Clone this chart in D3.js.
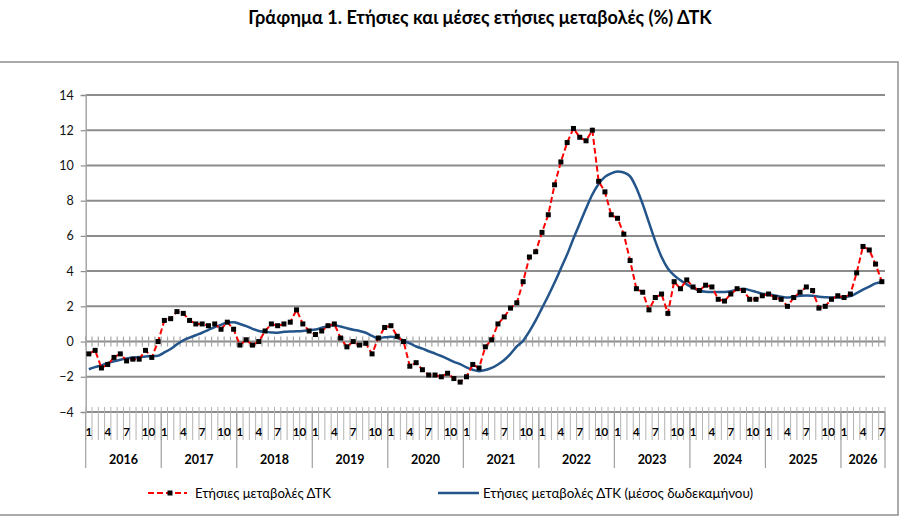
<!DOCTYPE html>
<html>
<head>
<meta charset="utf-8">
<script src="https://cdn.jsdelivr.net/npm/d3@7"></script>
<style>
  html, body { margin: 0; padding: 0; background: #ffffff; }
  svg { display: block; font-family: Lato, "Open Sans", "DejaVu Sans", sans-serif; }
</style>
</head>
<body>
<svg id="chart" width="914" height="530"></svg>
<script>
// ---------- data ----------
const titleText = "Γράφημα 1. Ετήσιες και μέσες ετήσιες μεταβολές (%) ΔΤΚ";
const seriesNames = ["Ετήσιες μεταβολές ΔΤΚ", "Ετήσιες μεταβολές ΔΤΚ (μέσος δωδεκαμήνου)"];
const years = [2016, 2017, 2018, 2019, 2020, 2021, 2022, 2023, 2024, 2025, 2026];
const monthsPerYear = [12, 12, 12, 12, 12, 12, 12, 12, 12, 12, 7];
const labelledMonths = [1, 4, 7, 10];
const yTicks = [-4, -2, 0, 2, 4, 6, 8, 10, 12, 14];

// annual change of CPI (%), monthly Jan 2016 - Jul 2026
const annualChange = [
  -0.7, -0.5, -1.5, -1.3, -0.9, -0.7, -1.1, -1.0, -1.0, -0.5, -0.9, 0.0,   // 2016
   1.2,  1.3,  1.7,  1.6,  1.2,  1.0,  1.0,  0.9,  1.0,  0.7,  1.1, 0.7,   // 2017
  -0.2,  0.1, -0.2,  0.0,  0.6,  1.0,  0.9,  1.0,  1.1,  1.8,  1.0, 0.6,   // 2018
   0.4,  0.6,  0.9,  1.0,  0.2, -0.3,  0.0, -0.2, -0.1, -0.7,  0.2, 0.8,   // 2019
   0.9,  0.3,  0.0, -1.4, -1.2, -1.6, -1.9, -1.9, -2.0, -1.8, -2.1, -2.3,  // 2020
  -2.0, -1.3, -1.5, -0.3,  0.1,  1.0,  1.4,  1.9,  2.2,  3.4,  4.8, 5.1,   // 2021
   6.2,  7.2,  8.9, 10.2, 11.3, 12.1, 11.6, 11.4, 12.0,  9.1,  8.5, 7.2,   // 2022
   7.0,  6.1,  4.6,  3.0,  2.8,  1.8,  2.5,  2.7,  1.6,  3.4,  3.0, 3.5,   // 2023
   3.1,  2.9,  3.2,  3.1,  2.4,  2.3,  2.7,  3.0,  2.9,  2.4,  2.4, 2.6,   // 2024
   2.7,  2.5,  2.4,  2.0,  2.5,  2.8,  3.1,  2.9,  1.9,  2.0,  2.4, 2.6,   // 2025
   2.5,  2.7,  3.9,  5.4,  5.2,  4.4,  3.4                                 // 2026
];

// 12-month average of annual change (%)
const avgChange = [
  -1.57, -1.45, -1.35, -1.22, -1.12, -1.03, -0.96, -0.91, -0.88, -0.85, -0.83, -0.80, // 2016
  -0.62, -0.42, -0.16,  0.07,  0.22,  0.36,  0.50,  0.66,  0.82,  0.95,  1.08,  1.10, // 2017
   1.00,  0.88,  0.72,  0.60,  0.55,  0.52,  0.50,  0.55,  0.57,  0.58,  0.60,  0.64, // 2018
   0.68,  0.78,  0.88,  0.92,  0.85,  0.76,  0.67,  0.60,  0.50,  0.32,  0.20,  0.24, // 2019
   0.27,  0.20,  0.05, -0.10, -0.28, -0.40, -0.55, -0.68, -0.82, -0.98, -1.15, -1.28, // 2020
  -1.47, -1.60, -1.68, -1.62, -1.50, -1.30, -1.05, -0.70, -0.28,  0.05,  0.58,  1.20, // 2021
   1.90,  2.60,  3.35,  4.15,  4.95,  5.85,  6.70,  7.55,  8.35,  8.95,  9.35,  9.55, // 2022
   9.65,  9.60,  9.38,  8.72,  7.80,  6.75,  5.70,  4.80,  4.15,  3.76,  3.48,  3.25, // 2023
   3.05,  2.90,  2.83,  2.82,  2.82,  2.82,  2.86,  2.95,  3.00,  2.92,  2.82,  2.72, // 2024
   2.68,  2.62,  2.55,  2.50,  2.55,  2.60,  2.62,  2.60,  2.55,  2.52,  2.50,  2.50, // 2025
   2.52,  2.58,  2.75,  2.95,  3.12,  3.30,  3.38                                      // 2026
];

// ---------- categories ----------
const categories = [];
years.forEach((yr, k) => {
  for (let m = 1; m <= monthsPerYear[k]; m++) categories.push({ year: yr, month: m });
});
const idx = d3.range(categories.length);

// ---------- layout ----------
const svg = d3.select("#chart");
const W = 914, H = 530;
const plot = { left: 85.7, right: 885, top: 95, bottom: 412 };

const x = d3.scaleBand().domain(idx).range([plot.left, plot.right]).paddingInner(0).paddingOuter(0);
const bw = x.bandwidth();
const cx = i => x(i) + bw / 2;
const y = d3.scaleLinear().domain([-4, 14]).range([plot.bottom, plot.top]);

function fitText(sel, target) {
  const n = sel.node();
  const len = n.getComputedTextLength();
  const fs = parseFloat(sel.attr("font-size"));
  if (len > 0) sel.attr("font-size", (fs * target / len).toFixed(2));
}

// outer frame
svg.append("rect")
  .attr("x", -2).attr("y", 62).attr("width", 900).attr("height", 453)
  .attr("fill", "none").attr("stroke", "#8f8f8f").attr("stroke-width", 1.5);

// title
const title = svg.append("text")
  .attr("x", 480).attr("y", 24)
  .attr("text-anchor", "middle")
  .attr("font-weight", "bold").attr("font-size", 16)
  .attr("fill", "#000")
  .text(titleText);
fitText(title, 464);

// gridlines
svg.append("g").selectAll("line").data(yTicks).join("line")
  .attr("x1", plot.left).attr("x2", plot.right)
  .attr("y1", d => y(d)).attr("y2", d => y(d))
  .attr("stroke", "#8c8c8c").attr("stroke-width", 2);

// y axis
const yAxis = d3.axisLeft(y).tickValues(yTicks).tickSize(5).tickPadding(7).tickFormat(d3.format("d"));
const gy = svg.append("g").attr("transform", `translate(${plot.left},0)`).call(yAxis);
gy.select(".domain").attr("stroke", "#a6a6a6").attr("stroke-width", 1.5);
gy.selectAll(".tick line").attr("stroke", "#8c8c8c").attr("stroke-width", 1.2);
gy.selectAll(".tick text").attr("font-size", 12.5).attr("fill", "#111").attr("font-family", "Lato, 'Open Sans', sans-serif");

// tick marks crossing the zero line
const bounds = d3.range(categories.length + 1).map(i => plot.left + i * bw);
svg.append("g").selectAll("line").data(bounds).join("line")
  .attr("x1", d => d).attr("x2", d => d)
  .attr("y1", y(0) - 5).attr("y2", y(0) + 5)
  .attr("stroke", "#a6a6a6").attr("stroke-width", 1.2);

// category dividers below the plot
svg.append("g").selectAll("line").data(bounds).join("line")
  .attr("x1", d => d).attr("x2", d => d)
  .attr("y1", plot.bottom - 5).attr("y2", 440)
  .attr("stroke", "#b3b3b3").attr("stroke-width", 1);

// year dividers
const yearStarts = [];
let acc = 0;
years.forEach((yr, k) => { yearStarts.push({ year: yr, start: acc, n: monthsPerYear[k] }); acc += monthsPerYear[k]; });
const yearBounds = yearStarts.map(d => d.start).concat([categories.length]);
svg.append("g").selectAll("line").data(yearBounds).join("line")
  .attr("x1", d => plot.left + d * bw).attr("x2", d => plot.left + d * bw)
  .attr("y1", plot.bottom).attr("y2", 468)
  .attr("stroke", "#a0a0a0").attr("stroke-width", 1.2);

// month labels
svg.append("g").selectAll("text")
  .data(idx.filter(i => labelledMonths.includes(categories[i].month)))
  .join("text")
  .attr("x", i => cx(i) + (categories[i].month === 10 ? 3 : 0))
  .attr("y", 436)
  .attr("text-anchor", "middle")
  .attr("font-weight", "bold").attr("font-size", 11.5).attr("fill", "#000")
  .text(i => categories[i].month);

// year labels
svg.append("g").selectAll("text").data(yearStarts).join("text")
  .attr("x", d => plot.left + (d.start + d.n / 2) * bw)
  .attr("y", 464)
  .attr("text-anchor", "middle")
  .attr("font-weight", "bold").attr("font-size", 12.5).attr("fill", "#000")
  .text(d => d.year);

// series
const blueColor = "#23548a";
const redColor = "#ff0000";

const lineBlue = d3.line().x((d, i) => cx(i)).y(d => y(d)).curve(d3.curveMonotoneX);
svg.append("path").datum(avgChange)
  .attr("d", lineBlue).attr("fill", "none")
  .attr("stroke", blueColor).attr("stroke-width", 2.5);

const lineRed = d3.line().x((d, i) => cx(i)).y(d => y(d));
svg.append("path").datum(annualChange)
  .attr("d", lineRed).attr("fill", "none")
  .attr("stroke", redColor).attr("stroke-width", 2)
  .attr("stroke-dasharray", "6,3");

svg.append("g").selectAll("rect").data(annualChange).join("rect")
  .attr("x", (d, i) => cx(i) - 2.5).attr("y", d => y(d) - 2.5)
  .attr("width", 5).attr("height", 5).attr("fill", "#000");

// legend
const ly = 493;
svg.append("line").attr("x1", 148).attr("x2", 187).attr("y1", ly).attr("y2", ly)
  .attr("stroke", redColor).attr("stroke-width", 2).attr("stroke-dasharray", "6,3");
svg.append("rect").attr("x", 167.5).attr("y", ly - 2.5).attr("width", 5).attr("height", 5).attr("fill", "#000");
const t1 = svg.append("text").attr("x", 195).attr("y", ly + 5)
  .attr("font-size", 13).attr("fill", "#000").text(seriesNames[0]);
fitText(t1, 136);

svg.append("line").attr("x1", 438).attr("x2", 479).attr("y1", ly).attr("y2", ly)
  .attr("stroke", blueColor).attr("stroke-width", 2.5);
const t2 = svg.append("text").attr("x", 483).attr("y", ly + 5)
  .attr("font-size", 13).attr("fill", "#000").text(seriesNames[1]);
fitText(t2, 270);
</script>
</body>
</html>
